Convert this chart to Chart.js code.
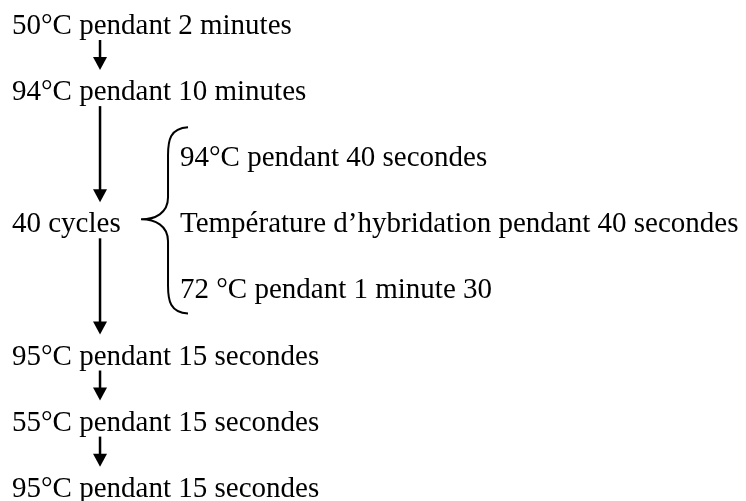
<!DOCTYPE html>
<html>
<head>
<meta charset="utf-8">
<script src="https://cdn.jsdelivr.net/npm/chart.js@4"></script>
<style>
	html, body { margin: 0; padding: 0; background: #fff; }
	#wrap { width: 746px; height: 501px; }
</style>
</head>
<body>
<div id="wrap"><canvas id="PcrChart" width="746" height="501"></canvas></div>
<script>
// programme PCR : etapes principales, puis le detail d'un cycle
const steps = ['50°C pendant 2 minutes', '94°C pendant 10 minutes', '40 cycles', '95°C pendant 15 secondes', '55°C pendant 15 secondes', '95°C pendant 15 secondes'];
const stepRows = [0, 1, 3, 5, 6, 7];
const cycleSteps = ['94°C pendant 40 secondes', 'Température d’hybridation pendant 40 secondes', '72 °C pendant 1 minute 30'];
const cycleRows = [2, 3, 4];
const arrows = [[0, 1], [1, 2], [2, 3], [3, 4], [4, 5]]; // de l'etape a vers l'etape b
const cycleOf = 2; // index dans steps

const FONT = '29px "Liberation Serif", "Times New Roman", serif';

const flowPlugin = {
	id: 'flow',
	afterDatasetsDraw(chart) {
		const ctx = chart.ctx;
		const xs = chart.scales.x, ys = chart.scales.y;
		ctx.save();
		ctx.fillStyle = '#000';
		ctx.strokeStyle = '#000';
		ctx.font = FONT;
		ctx.textBaseline = 'alphabetic';
		ctx.textAlign = 'left';

		// textes
		chart.data.datasets.forEach((ds, i) => {
			chart.getDatasetMeta(i).data.forEach((pt, j) => {
				ctx.fillText(ds.labels[j], pt.x, pt.y + 10);
			});
		});

		// fleches
		const ax = xs.getPixelForValue(0.524);
		ctx.lineWidth = 2.5;
		arrows.forEach(a => {
			const y0 = ys.getPixelForValue(stepRows[a[0]]) + 16;
			const y1 = ys.getPixelForValue(stepRows[a[1]]) - 20;
			ctx.beginPath();
			ctx.moveTo(ax, y0);
			ctx.lineTo(ax, y1 - 10);
			ctx.stroke();
			ctx.beginPath();
			ctx.moveTo(ax - 7, y1 - 13);
			ctx.lineTo(ax + 7, y1 - 13);
			ctx.lineTo(ax, y1);
			ctx.closePath();
			ctx.fill();
		});

		// accolade
		const tipX = xs.getPixelForValue(0.768);
		const midX = tipX + 27, endX = tipX + 47;
		const top = ys.getPixelForValue(cycleRows[0]) - 29;
		const bot = ys.getPixelForValue(cycleRows[cycleRows.length - 1]) + 25;
		const mid = ys.getPixelForValue(stepRows[cycleOf]) - 3;
		ctx.lineWidth = 2;
		ctx.beginPath();
		ctx.moveTo(endX, top);
		ctx.bezierCurveTo(midX + 2, top + 1, midX, top + 13, midX, top + 28);
		ctx.lineTo(midX, mid - 22);
		ctx.bezierCurveTo(midX, mid - 6, tipX + 14, mid, tipX, mid);
		ctx.bezierCurveTo(tipX + 14, mid, midX, mid + 6, midX, mid + 22);
		ctx.lineTo(midX, bot - 28);
		ctx.bezierCurveTo(midX, bot - 13, midX + 2, bot - 1, endX, bot);
		ctx.stroke();
		ctx.restore();
	}
};

new Chart(document.getElementById('PcrChart'), {
	type: 'scatter',
	data: {
		datasets: [{
			label: 'Etapes',
			labels: steps,
			data: steps.map((s, i) => ({ x: 0, y: stepRows[i] })),
			pointRadius: 0
		}, {
			label: 'Cycle',
			labels: cycleSteps,
			data: cycleSteps.map((s, i) => ({ x: 1, y: cycleRows[i] })),
			pointRadius: 0
		}]
	},
	options: {
		responsive: false,
		animation: false,
		layout: { padding: 0 },
		plugins: {
			legend: { display: false },
			tooltip: { enabled: false }
		},
		scales: {
			x: { type: 'linear', display: false, min: -0.0714, max: 4.369 },
			y: { type: 'linear', display: false, reverse: true, min: -0.363, max: 7.216 }
		}
	},
	plugins: [flowPlugin]
});
</script>
</body>
</html>
